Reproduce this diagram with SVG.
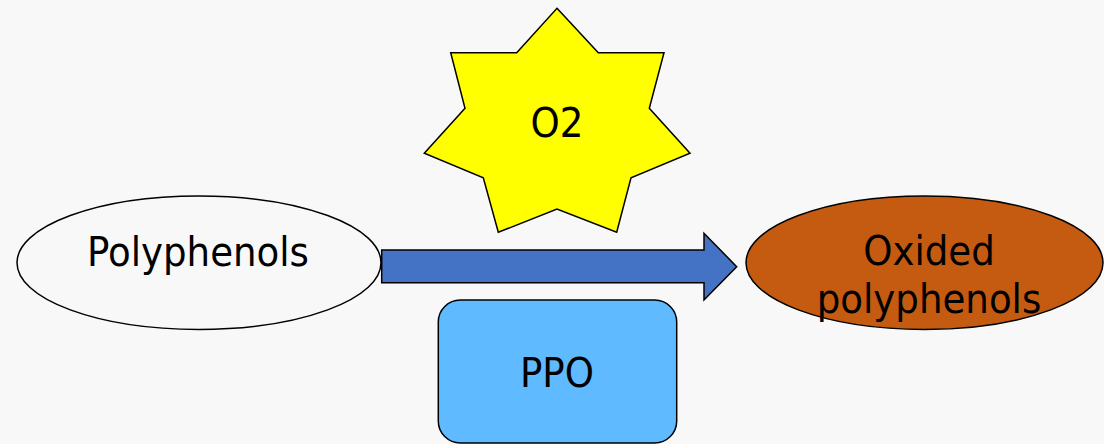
<svg xmlns="http://www.w3.org/2000/svg" width="1104" height="444" viewBox="0 0 1104 444">
  <style>
    .shape { stroke: #000000; stroke-width: 1.5; }
    .label { font-family: "DejaVu Sans Condensed", "DejaVu Sans", sans-serif; font-stretch: condensed; font-size: 41.3px; fill: #000000; text-anchor: middle; }
  </style>
  <rect width="1104" height="444" fill="#F8F8F8"/>

  <g id="oxygen">
    <polygon class="shape" fill="#FFFF00" points="557,8.3 598.3,52.7 664,52.7 649.3,108.3 690,153.3 631,177.7 616.7,232.3 557,209 498.3,232.3 483.3,177.7 424.3,153.3 465,108.3 450.7,52.7 516.7,52.7"/>
    <text class="label" x="557" y="137">O2</text>
  </g>

  <g id="polyphenols">
    <ellipse class="shape" fill="#FFFFFF" fill-opacity="0" cx="199" cy="262.7" rx="182" ry="66.7"/>
    <text class="label" x="198" y="266">Polyphenols</text>
  </g>

  <g id="connectors">
    <polygon class="shape" fill="#4472C4" points="381.7,250 704,250 704,233.3 736.7,266.7 704,300 704,282.7 381.7,282.7"/>
  </g>

  <g id="ppo">
    <rect class="shape" fill="#5FBAFF" x="438.3" y="300" width="238.4" height="143" rx="22" ry="22"/>
    <text class="label" x="557" y="387">PPO</text>
  </g>

  <g id="oxided-polyphenols">
    <ellipse class="shape" fill="#C55A11" cx="924.5" cy="262.7" rx="178.5" ry="66.7"/>
    <text class="label" x="929" y="265">Oxided</text>
    <text class="label" x="929" y="313">polyphenols</text>
  </g>
</svg>
